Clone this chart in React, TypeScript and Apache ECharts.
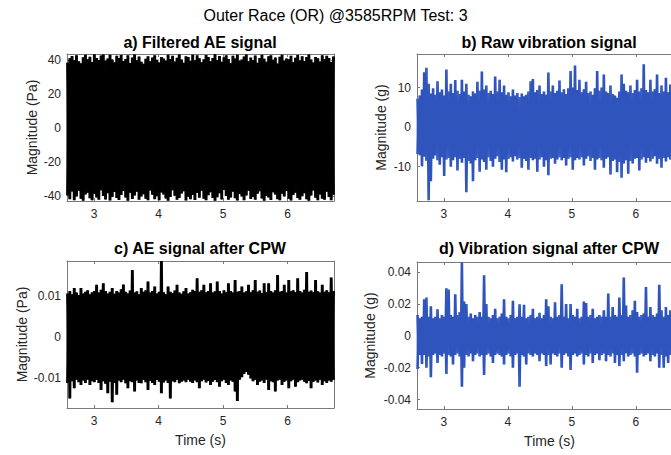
import React, { useEffect, useRef } from "react";
import * as echarts from "echarts";

// ---------- text ----------
const MAIN_TITLE = "Outer Race (OR) @3585RPM Test: 3";
const PANEL_TITLES = [
  "a) Filtered AE signal",
  "b) Raw vibration signal",
  "c) AE signal after CPW",
  "d) Vibration signal after CPW",
];
const Y_NAMES = ["Magnitude (Pa)", "Magnitude (g)", "Magnitude (Pa)", "Magnitude (g)"];
const X_NAME = "Time (s)";

// ---------- axis extents ----------
const X_RANGE = [2.58, 6.72];
const Y_RANGE_A = [-42.8, 43.7];
const Y_RANGE_B = [-18.7, 18.5];
const Y_RANGE_C = [-0.0173, 0.0185];
const Y_RANGE_D = [-0.0459, 0.0463];

// ---------- signal envelopes (upper / lower extremes per time bin) ----------
const aUpper = [
  38.6, 41.2, 42.5, 40.1, 43.0, 39.4, 38.2, 41.8, 43.3, 40.6,
  42.1, 39.0, 43.5, 41.4, 40.2, 42.8, 43.4, 39.8, 41.0, 43.2,
  40.5, 38.9, 42.6, 41.3, 43.1, 39.6, 40.8, 42.9, 38.4, 41.7,
  43.4, 40.0, 42.2, 39.2, 38.0, 40.9, 42.4, 39.5, 41.6, 43.0,
  40.3, 38.7, 42.0, 41.1, 39.9, 43.3, 40.7, 42.7, 39.3, 41.5,
  43.4, 40.4, 38.5, 42.3, 41.9, 39.7, 43.2, 40.0, 42.9, 41.2,
  38.8, 40.6, 43.1, 42.0, 39.4, 41.4, 43.5, 40.2, 42.5, 39.1,
  41.8, 43.0, 40.8, 38.3, 42.6, 41.0, 43.3, 39.8, 40.5, 42.2,
  43.4, 39.5, 41.6, 40.1, 42.8, 38.6, 41.3, 43.2, 40.9, 39.2,
  42.4, 43.0, 40.3, 41.7, 38.1, 42.1, 43.3, 39.9, 41.1, 40.6,
  42.7, 38.9, 41.5, 43.1, 40.0, 42.3, 39.6, 41.9, 43.4, 40.4,
  38.7, 42.0, 41.2, 39.3, 43.0, 40.8, 42.6, 41.4, 39.0, 42.2,
];
const aLower = [
  -39.5, -41.8, -37.2, -42.3, -40.1, -36.8, -41.5, -42.6, -39.0, -37.9,
  -41.2, -42.4, -38.6, -40.7, -42.0, -36.5, -39.8, -41.9, -38.2, -42.5,
  -40.4, -37.5, -41.0, -42.2, -39.3, -36.9, -40.8, -42.6, -38.0, -41.6,
  -39.6, -37.3, -42.1, -40.2, -38.8, -41.4, -42.4, -36.6, -39.1, -41.7,
  -40.0, -42.3, -37.8, -38.9, -41.3, -42.6, -40.5, -36.4, -39.7, -42.0,
  -41.1, -38.4, -37.0, -42.5, -40.3, -41.8, -39.2, -42.2, -38.1, -40.9,
  -36.7, -41.5, -42.4, -39.4, -37.6, -41.0, -42.6, -40.6, -38.3, -41.9,
  -36.3, -39.9, -42.1, -40.7, -37.4, -41.2, -42.5, -38.7, -40.1, -42.3,
  -39.5, -36.8, -41.6, -40.4, -42.0, -38.5, -37.1, -41.3, -42.6, -39.8,
  -40.8, -42.2, -37.7, -39.0, -41.7, -42.4, -38.6, -40.2, -36.9, -41.4,
  -42.5, -39.3, -37.9, -41.1, -42.1, -40.0, -38.2, -41.8, -42.6, -39.6,
  -36.6, -40.9, -42.3, -38.9, -41.5, -42.0, -37.3, -40.5, -42.4, -39.1,
];

const bUpper = [
  7.2, 8.0, 9.5, 13.9, 15.0, 11.0, 8.5, 9.8, 8.2, 11.6,
  8.8, 9.5, 8.0, 14.6, 9.0, 11.0, 8.6, 11.9, 9.2, 8.4,
  12.0, 9.0, 11.0, 8.2, 7.8, 9.0, 8.5, 11.5, 9.2, 14.1,
  9.5, 10.5, 8.6, 9.2, 8.4, 12.8, 9.0, 12.0, 8.8, 10.5,
  8.2, 8.8, 7.8, 9.5, 8.0, 8.6, 7.6, 8.5, 7.8, 8.2,
  9.0, 11.6, 12.2, 8.8, 9.4, 10.5, 8.4, 9.0, 8.2, 13.8,
  9.0, 10.5, 8.6, 9.2, 11.8, 8.8, 9.6, 8.4, 9.8, 14.2,
  10.0, 15.6, 9.4, 12.0, 8.8, 9.6, 11.5, 8.6, 9.0, 8.2,
  9.8, 14.2, 9.2, 10.0, 13.3, 9.0, 8.6, 10.5, 8.4, 8.0,
  7.4, 9.0, 13.3, 11.0, 9.2, 8.8, 10.5, 8.6, 9.4, 12.0,
  9.0, 9.8, 15.9, 9.4, 8.8, 12.0, 9.0, 9.6, 13.3, 8.6,
  10.5, 9.0, 12.5, 8.8, 10.8, 9.2, 11.0, 8.6, 9.8, 9.0,
];
const bLower = [
  -6.8, -7.1, -9.9, -7.5, -8.5, -18.5, -13.7, -8.0, -7.2, -8.4,
  -9.5, -7.6, -12.4, -8.2, -7.8, -10.0, -8.4, -7.6, -11.0, -8.0,
  -9.0, -7.8, -16.5, -8.6, -9.2, -13.7, -8.4, -7.8, -11.3, -8.2,
  -8.8, -10.8, -7.6, -8.6, -10.0, -8.0, -7.4, -8.8, -10.8, -8.2,
  -11.4, -8.0, -7.6, -8.7, -7.4, -8.2, -7.8, -10.3, -8.0, -8.6,
  -10.8, -7.8, -8.4, -8.0, -11.3, -8.2, -7.6, -10.0, -8.4, -12.2,
  -8.0, -7.8, -9.3, -8.2, -7.6, -8.4, -7.8, -9.7, -8.0, -7.6,
  -10.8, -8.4, -7.8, -8.2, -7.6, -9.7, -8.0, -7.4, -8.6, -7.8,
  -10.8, -8.2, -7.8, -8.4, -10.3, -8.0, -7.6, -12.0, -8.6, -8.2,
  -11.4, -8.8, -12.8, -9.2, -8.4, -11.8, -8.6, -9.2, -8.0, -7.8,
  -11.0, -8.2, -7.6, -9.0, -7.8, -8.7, -8.0, -7.4, -9.3, -8.0,
  -10.3, -7.8, -8.7, -7.6, -8.2, -9.0, -7.8, -8.4, -7.6, -8.0,
];

const cUpper = [
  0.0106, 0.0112, 0.0104, 0.0119, 0.0108, 0.0102, 0.0119, 0.0106, 0.011, 0.0114,
  0.0104, 0.0109, 0.0112, 0.0127, 0.0108, 0.0115, 0.0131, 0.0112, 0.0106, 0.011,
  0.0119, 0.0105, 0.0112, 0.0108, 0.0116, 0.0128, 0.011, 0.0106, 0.0113, 0.0163,
  0.0108, 0.0111, 0.0104, 0.0119, 0.011, 0.0114, 0.0135, 0.0108, 0.0112, 0.0123,
  0.0106, 0.011, 0.0185, 0.0109, 0.0104, 0.0123, 0.011, 0.0107, 0.0113, 0.0127,
  0.0108, 0.0105, 0.0111, 0.0119, 0.0106, 0.0109, 0.0115, 0.0112, 0.0143, 0.011,
  0.0114, 0.0127, 0.0109, 0.0112, 0.0131, 0.0108, 0.0111, 0.0135, 0.0112, 0.0106,
  0.0114, 0.0109, 0.0131, 0.0112, 0.0108, 0.0139, 0.011, 0.0112, 0.0123, 0.0108,
  0.0111, 0.0127, 0.0109, 0.0114, 0.0139, 0.011, 0.0113, 0.0107, 0.0131, 0.0109,
  0.0131, 0.0112, 0.0108, 0.0114, 0.0151, 0.011, 0.0112, 0.0127, 0.0108, 0.0139,
  0.0111, 0.0114, 0.0109, 0.0143, 0.0112, 0.0108, 0.0115, 0.0158, 0.011, 0.0113,
  0.0109, 0.0139, 0.0111, 0.0108, 0.0127, 0.011, 0.0114, 0.0109, 0.0145, 0.0112,
];
const cLower = [
  -0.0112, -0.015, -0.0108, -0.0125, -0.0104, -0.011, -0.0117, -0.0106, -0.0112, -0.0104,
  -0.0117, -0.0108, -0.011, -0.0105, -0.0112, -0.0129, -0.0108, -0.0114, -0.0137, -0.0109,
  -0.0159, -0.0112, -0.0141, -0.0106, -0.011, -0.0104, -0.0113, -0.0125, -0.0108, -0.011,
  -0.0133, -0.0106, -0.0112, -0.0113, -0.0105, -0.011, -0.0129, -0.0107, -0.0112, -0.0117,
  -0.0105, -0.0109, -0.0137, -0.0111, -0.0106, -0.0112, -0.015, -0.0108, -0.011, -0.0104,
  -0.0113, -0.0109, -0.0106, -0.011, -0.0104, -0.0109, -0.0112, -0.0106, -0.011, -0.0125,
  -0.0108, -0.0104, -0.0111, -0.0107, -0.0117, -0.0109, -0.0105, -0.011, -0.0121, -0.0108,
  -0.0104, -0.0112, -0.0117, -0.0106, -0.0109, -0.0133, -0.0156, -0.0104, -0.0098, -0.009,
  -0.0085, -0.0092, -0.0101, -0.0108, -0.0104, -0.0117, -0.0109, -0.0106, -0.0112, -0.0104,
  -0.0129, -0.0108, -0.011, -0.0133, -0.0106, -0.0104, -0.0117, -0.0109, -0.0106, -0.0125,
  -0.0108, -0.0104, -0.0121, -0.011, -0.0106, -0.0104, -0.0109, -0.0113, -0.0107, -0.0125,
  -0.0109, -0.0106, -0.0111, -0.0104, -0.0117, -0.0108, -0.0112, -0.0106, -0.0109, -0.0104,
];

const dUpper = [
  0.013, 0.011, 0.012, 0.023, 0.024, 0.012, 0.0185, 0.011, 0.012, 0.0167,
  0.011, 0.013, 0.012, 0.0298, 0.029, 0.013, 0.012, 0.026, 0.013, 0.015,
  0.046, 0.0215, 0.02, 0.012, 0.014, 0.011, 0.013, 0.012, 0.015, 0.012,
  0.038, 0.02, 0.012, 0.011, 0.013, 0.017, 0.011, 0.012, 0.014, 0.023,
  0.012, 0.011, 0.013, 0.022, 0.011, 0.012, 0.0198, 0.012, 0.0195, 0.011,
  0.012, 0.013, 0.017, 0.011, 0.012, 0.0145, 0.011, 0.013, 0.023, 0.0185,
  0.012, 0.011, 0.021, 0.012, 0.013, 0.0323, 0.012, 0.02, 0.011, 0.02,
  0.013, 0.012, 0.017, 0.011, 0.012, 0.0215, 0.0206, 0.012, 0.013, 0.017,
  0.011, 0.012, 0.013, 0.012, 0.016, 0.012, 0.0265, 0.012, 0.018, 0.013,
  0.012, 0.024, 0.013, 0.0365, 0.019, 0.012, 0.013, 0.016, 0.022, 0.015,
  0.012, 0.013, 0.014, 0.0306, 0.012, 0.018, 0.013, 0.012, 0.014, 0.032,
  0.016, 0.012, 0.018, 0.013, 0.016, 0.012, 0.014, 0.011, 0.013, 0.012,
];
const dLower = [
  -0.0208, -0.012, -0.0177, -0.012, -0.02, -0.013, -0.026, -0.012, -0.011, -0.017,
  -0.012, -0.013, -0.011, -0.024, -0.012, -0.013, -0.018, -0.012, -0.011, -0.013,
  -0.032, -0.02, -0.012, -0.013, -0.011, -0.016, -0.012, -0.011, -0.013, -0.012,
  -0.0245, -0.012, -0.011, -0.013, -0.017, -0.012, -0.011, -0.012, -0.013, -0.018,
  -0.012, -0.011, -0.013, -0.02, -0.012, -0.011, -0.032, -0.012, -0.013, -0.018,
  -0.011, -0.012, -0.013, -0.011, -0.012, -0.016, -0.011, -0.012, -0.019, -0.012,
  -0.018, -0.011, -0.012, -0.013, -0.011, -0.02, -0.012, -0.011, -0.013, -0.0215,
  -0.012, -0.011, -0.013, -0.012, -0.011, -0.018, -0.012, -0.013, -0.011, -0.017,
  -0.012, -0.011, -0.0153, -0.012, -0.011, -0.016, -0.012, -0.013, -0.011, -0.017,
  -0.012, -0.019, -0.012, -0.016, -0.011, -0.013, -0.012, -0.011, -0.013, -0.0232,
  -0.012, -0.011, -0.013, -0.012, -0.011, -0.016, -0.012, -0.013, -0.011, -0.02,
  -0.012, -0.02, -0.013, -0.017, -0.012, -0.011, -0.013, -0.012, -0.011, -0.012,
];

// ---------- styling ----------
const FONT = "'Liberation Sans', Arial, Helvetica, sans-serif";
const AXIS_COLOR = "#7a7a7a";
const LABEL_COLOR = "#262626";
const BLACK = "#000000";
const BLUE = "#2f55bd";

const GRIDS = [
  { left: 67, top: 54, width: 267, height: 147 },
  { left: 417, top: 54, width: 265, height: 147 },
  { left: 67, top: 261, width: 267, height: 147 },
  { left: 417, top: 262, width: 265, height: 147 },
];
const Y_NAME_GAPS = [28, 29, 38, 40];

// Interleave two extreme arrays into one trace (first, second, first, second ...)
function trace(first: number[], second: number[]) {
  const n = Math.min(first.length, second.length);
  const dt = (X_RANGE[1] - X_RANGE[0]) / (n - 0.5);
  const out: number[][] = [];
  for (let i = 0; i < n; i++) {
    out.push([X_RANGE[0] + i * dt, first[i]]);
    out.push([X_RANGE[0] + (i + 0.5) * dt, second[i]]);
  }
  return out;
}

function buildOption() {
  const yRanges = [Y_RANGE_A, Y_RANGE_B, Y_RANGE_C, Y_RANGE_D];
  const signals = [
    { up: aUpper, lo: aLower, color: BLACK, width: 1.8 },
    { up: bUpper, lo: bLower, color: BLUE, width: 1.5 },
    { up: cUpper, lo: cLower, color: BLACK, width: 1.8 },
    { up: dUpper, lo: dLower, color: BLUE, width: 1.5 },
  ];
  const line = { show: true, onZero: false, lineStyle: { color: AXIS_COLOR, width: 1 } };
  const tick = { show: true, inside: true, length: 3, lineStyle: { color: AXIS_COLOR, width: 1 } };
  const labelStyle = { color: LABEL_COLOR, fontSize: 12, fontFamily: FONT };

  const xAxis: any[] = [];
  const yAxis: any[] = [];
  const series: any[] = [];
  GRIDS.forEach((_, g) => {
    const bottomRow = g >= 2;
    xAxis.push({
      type: "value", gridIndex: g, position: "bottom",
      min: X_RANGE[0], max: X_RANGE[1], splitNumber: 5,
      axisLine: line, axisTick: tick, splitLine: { show: false },
      axisLabel: { ...labelStyle, margin: 7, showMinLabel: false, showMaxLabel: false },
      name: bottomRow ? X_NAME : "", nameLocation: "middle", nameGap: 25,
      nameTextStyle: { color: LABEL_COLOR, fontSize: 14, fontFamily: FONT },
    });
    xAxis.push({
      type: "value", gridIndex: g, position: "top",
      min: X_RANGE[0], max: X_RANGE[1], splitNumber: 5,
      axisLine: line, axisTick: tick, splitLine: { show: false }, axisLabel: { show: false },
    });
    yAxis.push({
      type: "value", gridIndex: g, position: "left",
      min: yRanges[g][0], max: yRanges[g][1], splitNumber: 5,
      axisLine: line, axisTick: tick, splitLine: { show: false },
      axisLabel: { ...labelStyle, margin: 6, showMinLabel: false, showMaxLabel: false },
      name: Y_NAMES[g], nameLocation: "middle", nameRotate: 90, nameGap: Y_NAME_GAPS[g],
      nameTextStyle: { color: LABEL_COLOR, fontSize: 14, fontFamily: FONT },
    });
    yAxis.push({
      type: "value", gridIndex: g, position: "right",
      min: yRanges[g][0], max: yRanges[g][1], splitNumber: 5,
      axisLine: line, axisTick: tick, splitLine: { show: false }, axisLabel: { show: false },
    });
    const s = signals[g];
    // two phase-shifted traces of the same extremes so the dense signal body is solid
    [trace(s.up, s.lo), trace(s.lo, s.up)].forEach((data) => {
      series.push({
        type: "line", xAxisIndex: g * 2, yAxisIndex: g * 2,
        data, symbol: "none", showSymbol: false, silent: true, clip: true,
        lineStyle: { color: s.color, width: s.width, join: "bevel" },
        z: 1,
      });
    });
  });

  const titleCenters = [
    [200, 42], [549, 42], [200, 248], [549, 248],
  ];
  const graphic: any[] = [
    {
      type: "text", x: 335.5, y: 15, silent: true,
      style: {
        text: MAIN_TITLE, fill: BLACK, font: `16px ${FONT}`,
        textAlign: "center", textVerticalAlign: "middle", align: "center", verticalAlign: "middle",
      },
    },
    ...PANEL_TITLES.map((t, i) => ({
      type: "text", x: titleCenters[i][0], y: titleCenters[i][1], silent: true,
      style: {
        text: t, fill: BLACK, font: `bold 16px ${FONT}`,
        textAlign: "center", textVerticalAlign: "middle", align: "center", verticalAlign: "middle",
      },
    })),
  ];

  return {
    animation: false,
    backgroundColor: "#ffffff",
    grid: GRIDS.map((g) => ({ ...g, containLabel: false, outerBoundsMode: "none" })),
    xAxis,
    yAxis,
    series,
    graphic,
  };
}

export default function App() {
  const ref = useRef<HTMLDivElement | null>(null);
  useEffect(() => {
    if (!ref.current) return;
    const chart = echarts.init(ref.current, undefined, { renderer: "svg" });
    chart.setOption(buildOption() as any);
    return () => chart.dispose();
  }, []);
  return (
    <div
      ref={ref}
      style={{ position: "fixed", left: 0, top: 0, width: 671, height: 455, background: "#fff" }}
    />
  );
}
